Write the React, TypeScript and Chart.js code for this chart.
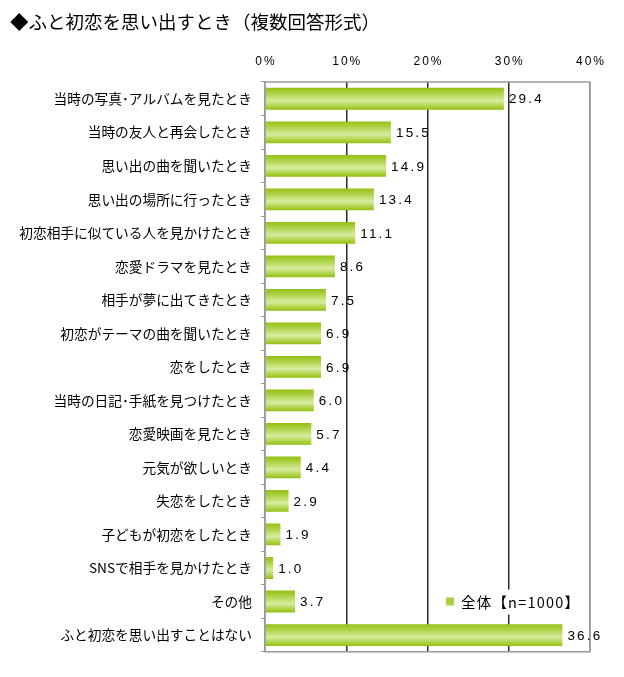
import React, { useEffect, useRef } from "react";
import { Chart, registerables } from "chart.js";

Chart.register(...registerables);

const TITLE = "◆ふと初恋を思い出すとき（複数回答形式）";
const SERIES_LABEL = "全体【n=1000】";
const categories = [
  "当時の写真･アルバムを見たとき",
  "当時の友人と再会したとき",
  "思い出の曲を聞いたとき",
  "思い出の場所に行ったとき",
  "初恋相手に似ている人を見かけたとき",
  "恋愛ドラマを見たとき",
  "相手が夢に出てきたとき",
  "初恋がテーマの曲を聞いたとき",
  "恋をしたとき",
  "当時の日記･手紙を見つけたとき",
  "恋愛映画を見たとき",
  "元気が欲しいとき",
  "失恋をしたとき",
  "子どもが初恋をしたとき",
  "SNSで相手を見かけたとき",
  "その他",
  "ふと初恋を思い出すことはない",
];
const values = [29.4, 15.5, 14.9, 13.4, 11.1, 8.6, 7.5, 6.9, 6.9, 6.0, 5.7, 4.4, 2.9, 1.9, 1.0, 3.7, 36.6];
const xMin = 0;
const xMax = 40;
const xStep = 10;
const LEGEND_ROW = 15;

const CJK = "'Noto Sans CJK JP', 'Noto Sans', sans-serif";
const NUM = "'Liberation Sans', Arial, sans-serif";
const BAR_PCT = 0.65;

const decoPlugin = {
  id: "deco",
  afterDatasetsDraw(chart: any) {
    const { ctx, chartArea } = chart;
    const xs = chart.scales.x;
    const ys = chart.scales.y;
    ctx.save();
    // legend
    const ly = ys.getPixelForValue(LEGEND_ROW);
    ctx.fillStyle = "#fff";
    ctx.fillRect(chartArea.right - 152, ly - 12, 146, 25);
    ctx.fillStyle = "#a8cf45";
    ctx.fillRect(chartArea.right - 144, ly - 4, 8, 8);
    ctx.fillStyle = "#000";
    ctx.textAlign = "left";
    ctx.textBaseline = "middle";
    ctx.font = `14.5px ${CJK}`;
    (ctx as any).letterSpacing = "1.2px";
    ctx.fillText(SERIES_LABEL, chartArea.right - 129, ly + 1);
    // frame
    ctx.strokeStyle = "#9a9a9a";
    ctx.lineWidth = 1.5;
    ctx.strokeRect(chartArea.left, chartArea.top, chartArea.right - chartArea.left, chartArea.bottom - chartArea.top);
    // top tick labels
    ctx.font = `12px ${NUM}`;
    ctx.fillStyle = "#000";
    ctx.textAlign = "center";
    (ctx as any).letterSpacing = "2px";
    xs.ticks.forEach((t: any) => {
      const px = xs.getPixelForValue(t.value);
      ctx.fillText(`${t.value}%`, px + 1, chartArea.top - 20);
    });
    // value labels
    ctx.font = `13.5px ${NUM}`;
    ctx.textAlign = "left";
    (ctx as any).letterSpacing = "2.2px";
    const meta = chart.getDatasetMeta(0);
    meta.data.forEach((bar: any, i: number) => {
      ctx.fillText(values[i].toFixed(1), bar.x + 5, bar.y + 1);
    });
    (ctx as any).letterSpacing = "0px";
    ctx.restore();
  },
};

export default function App() {
  const ref = useRef<HTMLCanvasElement | null>(null);
  useEffect(() => {
    if (!ref.current) return;
    const chart = new Chart(ref.current, {
      type: "bar",
      data: {
        labels: categories,
        datasets: [
          {
            label: SERIES_LABEL,
            data: values,
            barPercentage: BAR_PCT,
            categoryPercentage: 1,
            borderWidth: 0,
            backgroundColor: (c: any) => {
              const ch = c.chart;
              const ys = ch.scales?.y;
              if (!ys || c.dataIndex === undefined || !ch.chartArea) return "#a8cf45";
              const yc = ys.getPixelForValue(c.dataIndex);
              const h = (ys.height / categories.length) * BAR_PCT;
              const g = ch.ctx.createLinearGradient(0, yc - h / 2, 0, yc + h / 2);
              g.addColorStop(0, "#94c014");
              g.addColorStop(0.25, "#add245");
              g.addColorStop(0.6, "#d8eba0");
              g.addColorStop(0.85, "#acd242");
              g.addColorStop(1, "#92be14");
              return g;
            },
          },
        ],
      },
      options: {
        indexAxis: "y",
        responsive: true,
        maintainAspectRatio: false,
        animation: false,
        layout: { padding: { left: 2, right: 26, top: 0, bottom: 12 } },
        plugins: {
          legend: { display: false },
          tooltip: { enabled: false },
          title: {
            display: true,
            text: TITLE,
            align: "start",
            color: "#000",
            font: { family: CJK, size: 18.5, weight: "normal" },
            padding: { top: 3, bottom: 10 },
          },
        },
        scales: {
          x: {
            position: "top",
            min: xMin,
            max: xMax,
            ticks: { stepSize: xStep, display: false },
            grid: {
              drawTicks: false,
              color: (c: any) => (c.tick && (c.tick.value === xMin || c.tick.value === xMax) ? "#9a9a9a" : "#2a2a2a"),
              lineWidth: 1.5,
            },
            border: { display: false },
            afterFit: (s: any) => {
              s.height = 38.8;
            },
          },
          y: {
            ticks: { color: "#000", font: { family: CJK, size: 13.7 }, padding: 9, autoSkip: false },
            grid: { drawOnChartArea: false, drawTicks: true, tickLength: 4, color: "#9a9a9a", offset: true },
            border: { display: false },
            afterFit: (s: any) => {
              s.width = 255;
            },
          },
        },
      },
      plugins: [decoPlugin],
    } as any);
    return () => chart.destroy();
  }, []);
  return (
    <div style={{ width: 608, height: 661, position: "relative" }}>
      <canvas ref={ref} />
    </div>
  );
}
